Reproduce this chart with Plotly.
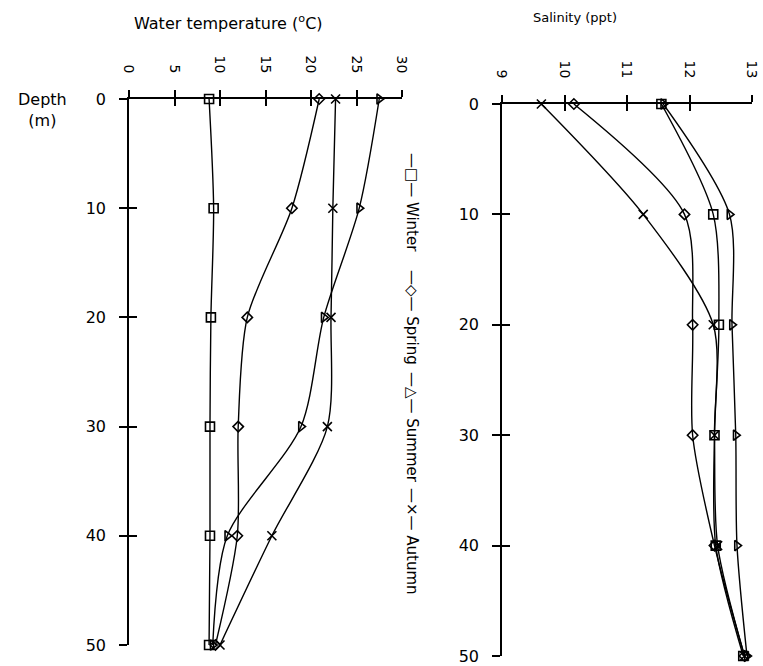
import plotly.graph_objects as go

# ---------------- data ----------------
depth = [0, 10, 20, 30, 40, 50]
seasons = ["Winter", "Spring", "Summer", "Autumn"]

temp_winter = [8.8, 9.3, 9.0, 8.9, 8.9, 8.8]
temp_spring = [20.9, 17.9, 13.0, 12.0, 11.9, 9.5]
temp_summer = [27.5, 25.3, 21.4, 18.9, 10.8, 9.2]
temp_autumn = [22.7, 22.4, 22.2, 21.8, 15.7, 10.0]

sal_winter = [11.55, 12.38, 12.47, 12.40, 12.42, 12.86]
sal_spring = [10.15, 11.92, 12.05, 12.05, 12.40, 12.88]
sal_summer = [11.58, 12.64, 12.68, 12.74, 12.76, 12.92]
sal_autumn = [9.63, 11.26, 12.38, 12.40, 12.45, 12.88]

temp_ticks = [0, 5, 10, 15, 20, 25, 30]
sal_ticks = [9, 10, 11, 12, 13]
depth_ticks = [0, 10, 20, 30, 40, 50]

# ---------------- styling ----------------
W, H = 763, 666
FONT = "DejaVu Sans"
symbols = {"Winter": "square-open", "Spring": "diamond-open",
           "Summer": "triangle-right-open", "Autumn": "x-thin-open"}
msize = {"Winter": 9, "Spring": 8, "Summer": 9, "Autumn": 9}

temps = {"Winter": temp_winter, "Spring": temp_spring,
         "Summer": temp_summer, "Autumn": temp_autumn}
sals = {"Winter": sal_winter, "Spring": sal_spring,
        "Summer": sal_summer, "Autumn": sal_autumn}


def px_x(p):
    return p / W


def px_y(p):
    return 1 - p / H


fig = go.Figure()
for s in seasons:
    fig.add_trace(go.Scatter(
        x=temps[s], y=depth, mode="lines+markers", name=s,
        line=dict(color="black", width=1.4, shape="spline", smoothing=0.8),
        marker=dict(symbol=symbols[s], size=msize[s], color="black",
                    line=dict(color="black", width=1.6)),
        cliponaxis=False, xaxis="x", yaxis="y", showlegend=False))
for s in seasons:
    fig.add_trace(go.Scatter(
        x=sals[s], y=depth, mode="lines+markers", name=s,
        line=dict(color="black", width=1.4, shape="spline", smoothing=0.8),
        marker=dict(symbol=symbols[s], size=msize[s], color="black",
                    line=dict(color="black", width=1.6)),
        cliponaxis=False, xaxis="x2", yaxis="y2", showlegend=False))

# empty traces to register tick-overlay axes (ticks crossing the axis line)
fig.add_trace(go.Scatter(x=[None], y=[None], xaxis="x3", yaxis="y3",
                         mode="lines", showlegend=False, hoverinfo="skip"))
fig.add_trace(go.Scatter(x=[None], y=[None], xaxis="x4", yaxis="y4",
                         mode="lines", showlegend=False, hoverinfo="skip"))

tickfont = dict(family=FONT, size=14, color="black")

L_X = [px_x(129), px_x(402)]
L_Y = [px_y(645), px_y(99)]
R_X = [px_x(502), px_x(752)]
R_Y = [px_y(656), px_y(104)]

common_x = dict(showgrid=False, zeroline=False, showline=True,
                linecolor="black", linewidth=1.5, side="top",
                tickcolor="black", tickwidth=1.5, ticklen=7,
                tickangle=90, tickfont=tickfont, fixedrange=True,
                automargin=False)
common_y = dict(showgrid=False, zeroline=False, showline=True,
                linecolor="black", linewidth=1.5,
                tickcolor="black", tickwidth=1.5, ticklen=8,
                tickvals=depth_ticks, range=[50, 0],
                tickfont=dict(family=FONT, size=16, color="black"),
                fixedrange=True, automargin=False)

fig.update_layout(
    width=W, height=H,
    margin=dict(l=0, r=0, t=0, b=0, autoexpand=False),
    paper_bgcolor="white", plot_bgcolor="white",
    showlegend=False,
    xaxis=dict(common_x, domain=L_X, range=[0, 30], tickvals=temp_ticks,
               anchor="y", ticks="outside", ticklabelstandoff=12),
    yaxis=dict(common_y, domain=L_Y, anchor="x", ticks="outside",
               ticklabelstandoff=10),
    xaxis3=dict(common_x, domain=L_X, range=[0, 30], tickvals=temp_ticks,
                anchor="y", overlaying="x", ticks="inside",
                showticklabels=False, showline=False),
    yaxis3=dict(common_y, domain=L_Y, anchor="x", overlaying="y",
                ticks="inside", showticklabels=False, showline=False),
    xaxis2=dict(common_x, domain=R_X, range=[9, 13], tickvals=sal_ticks,
                anchor="y2", ticks="outside", ticklabelstandoff=12),
    yaxis2=dict(common_y, domain=R_Y, anchor="x2", ticks="outside",
                ticklabelstandoff=10),
    xaxis4=dict(common_x, domain=R_X, range=[9, 13], tickvals=sal_ticks,
                anchor="y2", overlaying="x2", ticks="inside",
                showticklabels=False, showline=False),
    yaxis4=dict(common_y, domain=R_Y, anchor="x2", overlaying="y2",
                ticks="inside", showticklabels=False, showline=False),
)

annotations = [
    dict(text="Water temperature (<sup>o</sup>C)", x=px_x(228), y=px_y(22),
         font=dict(family=FONT, size=16, color="black")),
    dict(text="Salinity (ppt)", x=px_x(575), y=px_y(18),
         font=dict(family=FONT, size=13, color="black")),
    dict(text="Depth<br>(m)", x=px_x(42), y=px_y(110),
         font=dict(family=FONT, size=16, color="black")),
]
legend_text = {"Winter": "\u2014\u25a1\u2014 Winter",
               "Spring": "\u2014\u25c7\u2014 Spring",
               "Summer": "\u2014\u25b3\u2014 Summer",
               "Autumn": "\u2014\u00d7\u2014 Autumn"}
legend_y = {"Winter": 203, "Spring": 318, "Summer": 428, "Autumn": 542}
for s in seasons:
    annotations.append(dict(text=legend_text[s], x=px_x(412),
                            y=px_y(legend_y[s]), textangle=90,
                            font=dict(family=FONT, size=15, color="black")))
for a in annotations:
    a.update(xref="paper", yref="paper", showarrow=False,
             xanchor="center", yanchor="middle")
fig.update_layout(annotations=annotations)

fig.write_html(
    "out.html",
    config={"displayModeBar": False, "staticPlot": False},
    post_script="document.body.style.margin='0';"
                "document.body.style.overflow='hidden';")
